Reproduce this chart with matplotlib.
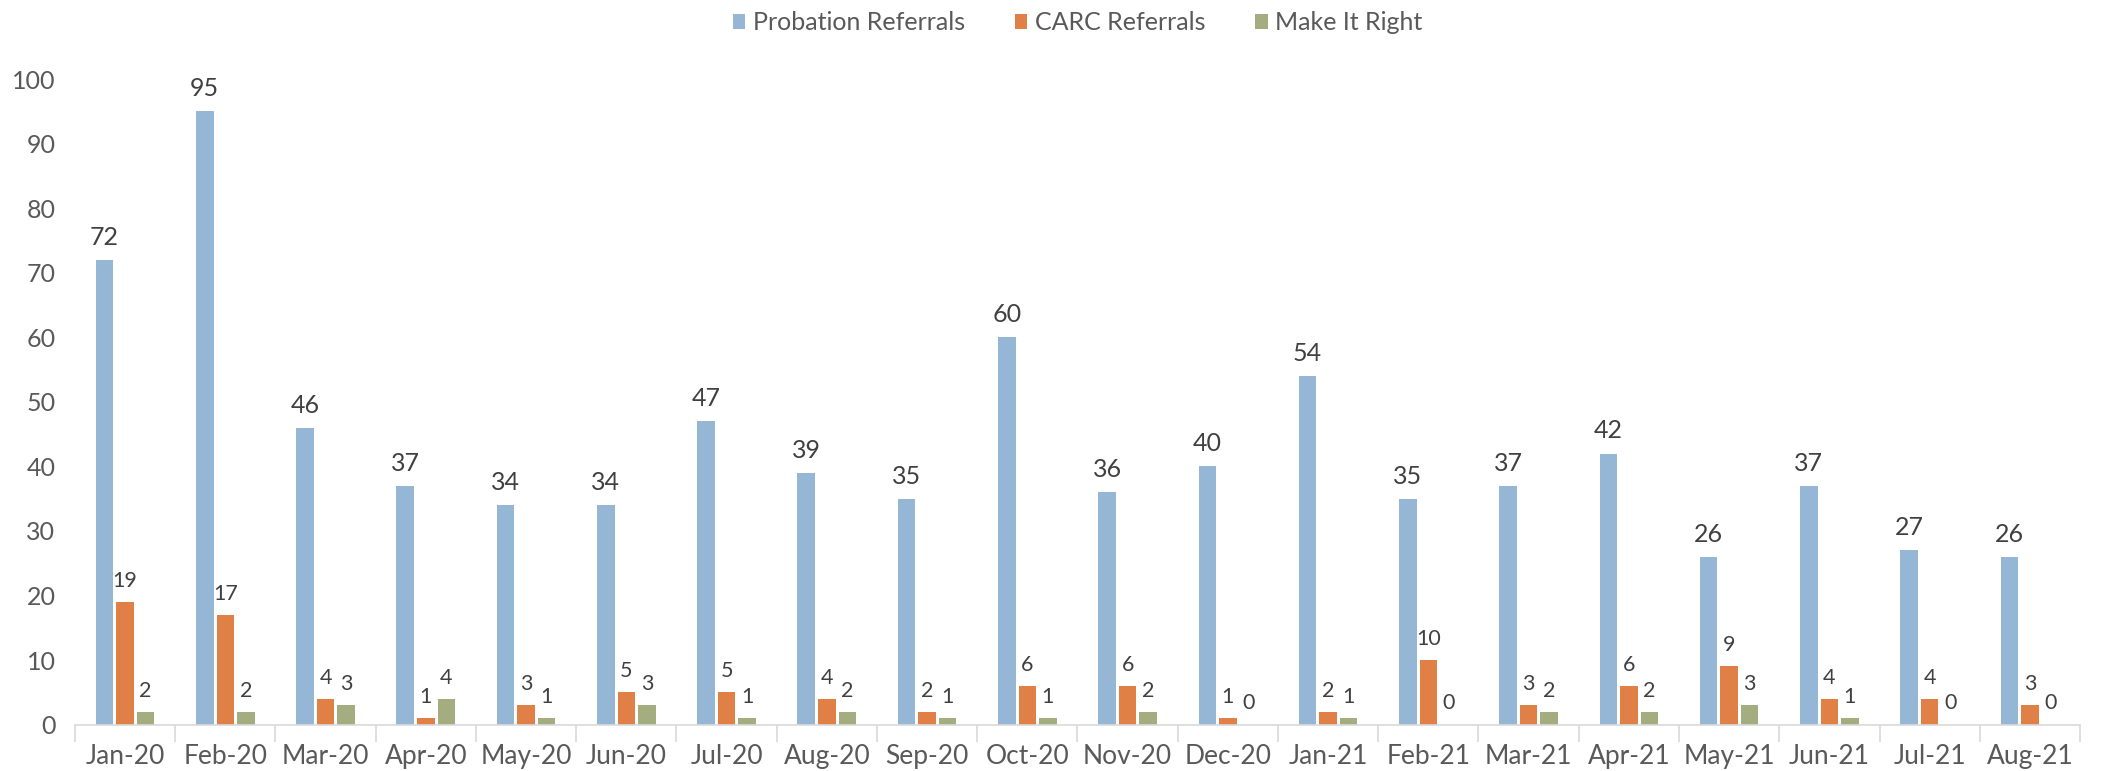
import numpy as np
import matplotlib.pyplot as plt

months = ['Jan-20', 'Feb-20', 'Mar-20', 'Apr-20', 'May-20', 'Jun-20', 'Jul-20',
          'Aug-20', 'Sep-20', 'Oct-20', 'Nov-20', 'Dec-20', 'Jan-21', 'Feb-21',
          'Mar-21', 'Apr-21', 'May-21', 'Jun-21', 'Jul-21', 'Aug-21']
probation = [72, 95, 46, 37, 34, 34, 47, 39, 35, 60, 36, 40, 54, 35, 37, 42, 26, 37, 27, 26]
carc = [19, 17, 4, 1, 3, 5, 5, 4, 2, 6, 6, 1, 2, 10, 3, 6, 9, 4, 4, 3]
make_it_right = [2, 2, 3, 4, 1, 3, 1, 2, 1, 1, 2, 0, 1, 0, 2, 2, 3, 1, 0, 0]

series = [('Probation Referrals', probation, '#95B6D5', 18),
          ('CARC Referrals', carc, '#E07F46', 15.5),
          ('Make It Right', make_it_right, '#A4AD7F', 15.5)]

plt.rcParams['font.family'] = ['Lato', 'DejaVu Sans']

fig = plt.figure(figsize=(21.04, 7.71), dpi=100)
ax = fig.add_axes([0.0356, 0.0602, 0.953, 0.8371])

x = np.arange(len(months))
width = 0.175
step = 0.205
for i, (name, vals, color, fs) in enumerate(series):
    pos = x + (i - 1) * step
    ax.bar(pos, vals, width, color=color, label=name)
    for xp, v in zip(pos, vals):
        ax.annotate(str(v), (xp, v), xytext=(0, 8), textcoords='offset points',
                    ha='center', va='bottom', fontsize=fs, color='#404040')

ax.set_xlim(-0.5, len(months) - 0.5)
ax.set_ylim(0, 100)
ax.set_yticks(range(0, 101, 10))
ax.set_xticks(x)
ax.set_xticklabels(months)
ax.set_xticks(np.arange(-0.5, len(months), 1), minor=True)
ax.tick_params(axis='x', which='major', length=0, pad=14, labelsize=19, labelcolor='#595959')
ax.tick_params(axis='x', which='minor', length=12, color='#D9D9D9', width=1.2)
ax.tick_params(axis='y', length=0, pad=14, labelsize=18, labelcolor='#595959')

for side in ['top', 'right', 'left']:
    ax.spines[side].set_visible(False)
ax.spines['bottom'].set_color('#D9D9D9')
ax.spines['bottom'].set_linewidth(1.2)

leg = ax.legend(loc='upper center', bbox_to_anchor=(0.5, 1.14), ncol=3, frameon=False,
                fontsize=18, handlelength=0.5, handleheight=0.5, columnspacing=2.0,
                handletextpad=0.3)
for t in leg.get_texts():
    t.set_color('#595959')

fig.savefig('out.png', dpi=100)
